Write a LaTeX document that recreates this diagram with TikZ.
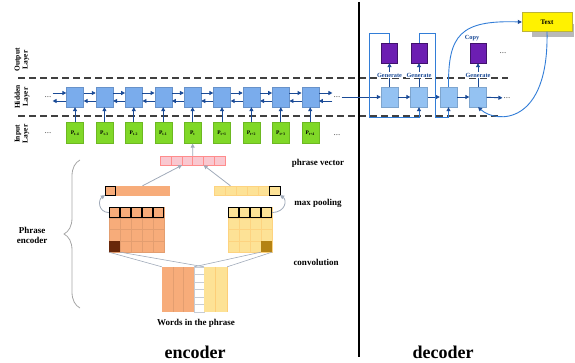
\documentclass[tikz,border=0pt]{standalone}
\usepackage{fontspec}
\setmainfont{Liberation Serif}
\usetikzlibrary{arrows.meta,decorations.pathreplacing}

\definecolor{hidblue}{RGB}{122,172,236}
\definecolor{decblue}{RGB}{148,194,242}
\definecolor{arrblue}{RGB}{26,74,150}
\definecolor{loopblue}{RGB}{50,125,215}
\definecolor{ingreen}{RGB}{128,216,40}
\definecolor{outpurple}{RGB}{108,30,178}
\definecolor{vecpink}{RGB}{249,200,208}
\definecolor{convorange}{RGB}{247,172,122}
\definecolor{convyellow}{RGB}{253,226,150}
\definecolor{darkbrown}{RGB}{105,40,10}
\definecolor{darkgold}{RGB}{180,130,20}
\definecolor{linegray}{RGB}{160,170,185}

\tikzset{
	hidden/.style={fill=hidblue, draw=hidblue!85!black, line width=0.3pt, minimum width=17, minimum height=20, inner sep=0},
	decbox/.style={hidden, fill=decblue, draw=decblue!85!black},
	input/.style={fill=ingreen, draw=ingreen!85!black, line width=0.3pt, minimum width=17, minimum height=21, inner sep=0, font=\fontsize{5.5}{6}\selectfont\bfseries},
	outbox/.style={fill=outpurple, draw=outpurple!60!black, line width=0.4pt, minimum width=16, minimum height=20, inner sep=0},
	harrow/.style={draw=arrblue, line width=0.9pt, -{Triangle[length=4pt,width=4pt]}},
	uparrow/.style={harrow},
	looparrow/.style={draw=loopblue, line width=0.9pt, -{Triangle[length=4pt,width=4pt,color=arrblue]}},
	garrow/.style={draw=linegray, line width=0.8pt, -{Triangle[length=4pt,width=4pt]}},
	cline/.style={draw=linegray, line width=0.6pt},
	sep/.style={dash pattern=on 7pt off 4pt, line width=1.1pt, black!75},
	layer/.style={rotate=90, align=center, font=\fontsize{7.5}{8}\selectfont\bfseries},
	dots/.style={font=\fontsize{9}{9}\selectfont, text=black!70, inner sep=1pt},
	gen/.style={font=\fontsize{6.3}{7}\selectfont\bfseries, text=arrblue, fill=white, inner sep=0.5pt},
	note/.style={font=\fontsize{9}{10}\selectfont\bfseries, align=center},
	big/.style={font=\fontsize{18}{20}\selectfont\bfseries},
	pcell/.style={fill=vecpink, draw=red!45, line width=0.4pt, minimum width=10.8, minimum height=9, inner sep=0},
	ocell/.style={fill=convorange, draw=convorange!92!black, line width=0.3pt, minimum width=11, minimum height=11.25, inner sep=0},
	ycell/.style={fill=convyellow, draw=convyellow!85!orange, line width=0.3pt, minimum width=11, minimum height=11.25, inner sep=0},
	brace/.style={decorate, decoration={brace, amplitude=16pt}, gray!70, line width=0.8pt}
}

\begin{document}
\begin{tikzpicture}[x=1pt,y=-1pt]
	\useasboundingbox (0,0) rectangle (575,363);

	% layer separators and divider
	\draw[sep] (18,78) -- (508,78);
	\draw[sep] (18,116) -- (500,116);
	\draw[line width=1.3pt] (359,2) -- (359,357);

	\node[layer] (outlab) at (22,60) {Output\\Layer};
	\node[layer] (hidlab) at (22,97) {Hidden\\Layer};
	\node[layer] (inlab) at (22,134) {Input\\Layer};

	% encoder: hidden and input layer
	\foreach \i/\t in {0/t-4,1/t-3,2/t-2,3/t-1,4/t,5/t+1,6/t+2,7/t+3,8/t+4} {
		\node[hidden] (h\i) at (75+29.4*\i,97) {};
		\node[input] (p\i) at (75+29.4*\i,133) {P\textsubscript{\t}};
		\draw[uparrow] (p\i) -- (h\i);
	}
	\foreach \i [count=\j] in {0,...,7} {
		\draw[harrow] ([yshift=4]h\i.east) -- ([yshift=4]h\j.west);
		\draw[harrow] ([yshift=-4]h\j.west) -- ([yshift=-4]h\i.east);
	}
	\node[dots] (ldh) at (48,97) {...};
	\node[dots] (ldp) at (48,133) {...};
	\node[dots] (rdh) at (337,97) {...};
	\node[dots] (rdp) at (337,135) {...};
	\draw[harrow] ([yshift=4]ldh.east) -- ([yshift=4]h0.west);
	\draw[harrow] ([yshift=-4]h0.west) -- ([yshift=-4]ldh.east);
	\draw[harrow] ([yshift=4]h8.east) -- ([yshift=4]rdh.west);
	\draw[harrow] ([yshift=-4]rdh.west) -- ([yshift=-4]h8.east);

	% decoder
	\foreach \i in {1,...,4}
		\node[decbox] (d\i) at (360+29.5*\i,97) {};
	\foreach \i in {1,2,4} {
		\node[outbox] (o\i) at (360+29.5*\i,53) {};
		\draw[harrow] (d\i) -- node[gen] {Generate} (o\i);
	}
	\node[dots] (ddh) at (507,98) {...};
	\node[dots] (ddo) at (503,53) {...};
	\draw[harrow] (rdh) -- (d1);
	\draw[harrow] (d1) -- (d2);
	\draw[harrow] (d2) -- (d3);
	\draw[harrow] (d3) -- (d4);
	\draw[harrow] (d4) -- (ddh);
	\draw[looparrow] (o1.north) |- (369,33) -- (369,117) -| (d2.south);
	\draw[looparrow] (o2.north) |- (435,33) -- (435,117) -| (d3.south);

	\fill[gray!55] (532,24) rectangle (574,37);
	\node[fill=yellow, draw=yellow!70!black, line width=0.3pt, minimum width=50, minimum height=19, inner sep=0, font=\fontsize{7}{8}\selectfont\bfseries] (txt) at (547,22) {Text};
	\draw[looparrow] (d3.north) .. controls (448,35) and (460,20) .. (txt.west);
	\node[gen, fill=none] (copylab) at (472,38) {Copy};
	\draw[looparrow] (txt.south) .. controls (549,125) and (497,124) .. (d4.south);

	% phrase encoder
	\foreach \i in {1,...,6}
		\node[pcell] (pv\i) at (160.2+10.8*\i-5.4,160.5) {};
	\draw[garrow] (pv3.north east) -- (p4.south);

	\foreach \i in {1,...,6} {
		\node[ocell, minimum width=10.7, minimum height=9, draw=convorange] (lb\i) at (105+10.7*\i-5.35,190.5) {};
		\node[ycell, minimum height=9] (rb\i) at (214+11*\i-5.5,190.5) {};
	}
	\node[ocell, minimum width=10.7, minimum height=9, draw=black, line width=0.7pt] at (lb1) {};
	\node[ycell, minimum height=9, draw=black, line width=0.7pt] at (rb6) {};

	\foreach \r in {1,...,4} {
		\foreach \c in {1,...,5}
			\node[ocell] (lm\r\c) at (109+11*\c-5.5,207+11.25*\r-5.625) {};
		\foreach \c in {1,...,4}
			\node[ycell] (rm\r\c) at (228+11*\c-5.5,207+11.25*\r-5.625) {};
	}
	\foreach \c in {1,...,5}
		\node[ocell, draw=black, line width=0.7pt, minimum width=10, minimum height=10] at (lm1\c) {};
	\foreach \c in {1,...,4}
		\node[ycell, draw=black, line width=0.7pt, minimum width=10, minimum height=10] at (rm1\c) {};
	\node[ocell, fill=darkbrown, draw=darkbrown, minimum width=10, minimum height=10] at (lm41) {};
	\node[ycell, fill=darkgold, draw=darkgold, minimum width=10, minimum height=10] at (rm44) {};

	\draw[garrow] (lb4.north) -- (pv2.south east);
	\draw[garrow] (rb2.north) -- (pv4.south east);
	\draw[garrow] (lm11.west) .. controls (98,212) and (98,200) .. (lb1.south west);
	\draw[garrow] (rm14.east) .. controls (286,212) and (287,200) .. (rb6.south east);

	% words in the phrase
	\node[fill=convorange, minimum width=32, minimum height=45, inner sep=0] (wo) at (178,289.5) {};
	\node[fill=white, draw=linegray!60, line width=0.3pt, minimum width=10, minimum height=45, inner sep=0] (ww) at (199,289.5) {};
	\node[fill=convyellow, minimum width=23, minimum height=45, inner sep=0] (wy) at (215.5,289.5) {};
	\foreach \k in {1,...,5}
		\draw[linegray!60, line width=0.3pt] (ww.west |- 0,267+7.5*\k) -- (ww.east |- 0,267+7.5*\k);
	\draw[convorange!92!black, line width=0.3pt] (172.7,267) -- (172.7,312) (183.3,267) -- (183.3,312);
	\draw[convyellow!80!orange, line width=0.4pt] (wy.north) -- (wy.south) (wy.north east) -- (wy.south east);
	\draw[cline] (lm41.south west) -- (wo.north west);
	\draw[cline] (lm41.south east) -- (ww.north east);
	\draw[cline] (rm44.south east) -- (wy.north east);
	\draw[cline] (rm44.south west) -- (wo.north east);

	\draw[brace] (80,308) -- (80,160);

	\node[note] (pvtxt) at (318,163) {phrase vector};
	\node[note] (mptxt) at (318,203) {max pooling};
	\node[note] (cvtxt) at (316,262) {convolution};
	\node[note] (wtxt) at (196,323) {Words in the phrase};
	\node[note] (petxt) at (32,235) {Phrase\\encoder};
	\node[big] (enc) at (195,352) {encoder};
	\node[big] (dec) at (443,352) {decoder};
\end{tikzpicture}
\end{document}
